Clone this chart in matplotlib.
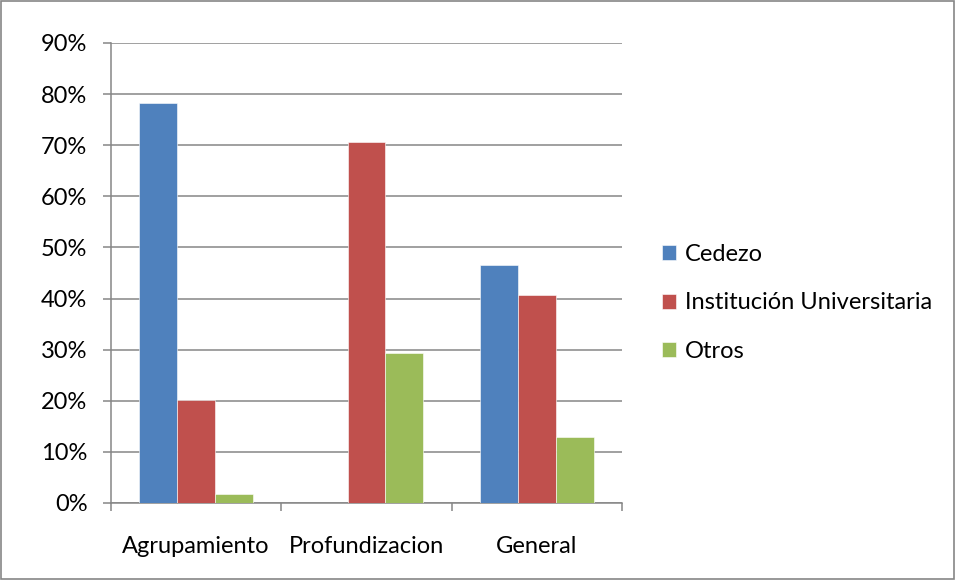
import matplotlib
matplotlib.use("Agg")
import matplotlib.pyplot as plt
import numpy as np
from matplotlib.patches import Rectangle

categories = ["Agrupamiento", "Profundizacion", "General"]
series = ["Cedezo", "Institución Universitaria", "Otros"]
cedezo = [78.3, 0.0, 46.6]
institucion = [20.1, 70.7, 40.6]
otros = [1.7, 29.3, 12.9]
yticks = [0, 10, 20, 30, 40, 50, 60, 70, 80, 90]

BLUE, RED, GREEN = "#4F81BD", "#C0504D", "#9BBB59"
GRID = "#868686"
FS = 17

plt.rcParams["font.family"] = ["Lato", "DejaVu Sans"]

fig = plt.figure(figsize=(9.56, 5.8), dpi=100)
ax = fig.add_axes([0.1161, 0.1328, 0.5345, 0.7931])

x = np.arange(len(categories))
w = 1 / 4.5
for i, (vals, col) in enumerate(zip([cedezo, institucion, otros], [BLUE, RED, GREEN])):
    ax.bar(x + (i - 1) * w, vals, w, color=col, label=series[i], zorder=3,
           edgecolor="white", linewidth=0.4)

ax.set_xlim(-0.5, 2.5)
ax.set_ylim(0, 90)
ax.set_yticks(yticks)
ax.set_yticklabels([f"{t}%" for t in yticks], fontsize=FS)
ax.yaxis.grid(True, color=GRID, linewidth=1.1, zorder=0)
ax.set_xticks(x)
ax.set_xticklabels(categories, fontsize=FS)
ax.set_xticks([-0.5, 0.5, 1.5, 2.5], minor=True)
ax.tick_params(axis="x", which="major", length=0, pad=24)
ax.tick_params(axis="x", which="minor", length=6, color=GRID, width=1.1)
ax.tick_params(axis="y", length=6, color=GRID, width=1.1, pad=11)
for s in ["top", "right"]:
    ax.spines[s].set_visible(False)
for s in ["left", "bottom"]:
    ax.spines[s].set_color(GRID)
    ax.spines[s].set_linewidth(1.1)

ax.legend(loc="center left", bbox_to_anchor=(1.037, 0.435), frameon=False, fontsize=FS,
          handlelength=0.6, handleheight=0.6, handletextpad=0.35, labelspacing=1.18)

fig.patches.append(Rectangle((0.001, 0.002), 0.997, 0.996, transform=fig.transFigure,
                             fill=False, edgecolor=GRID, linewidth=1.2))

fig.savefig("out.png", dpi=100)
